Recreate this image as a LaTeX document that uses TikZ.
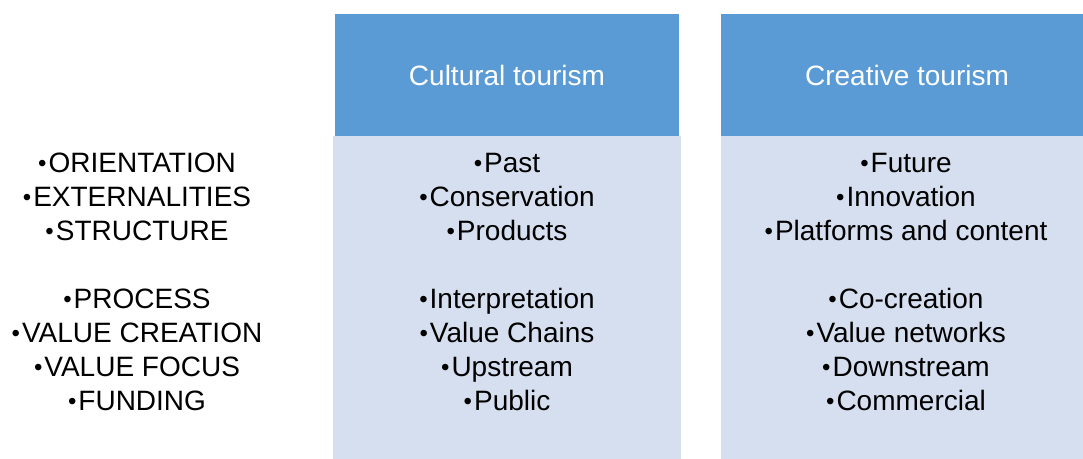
\documentclass[tikz,border=0pt]{standalone}
\usepackage{fontspec}
\setmainfont{Liberation Sans}
\definecolor{hdr}{HTML}{5B9BD5}
\definecolor{bdy}{HTML}{D5DFEF}
\newcommand{\blt}{{\fontsize{24bp}{34bp}\selectfont\raisebox{1bp}{•}}\kern2bp}
\begin{document}
\begin{tikzpicture}[x=1bp,y=-1bp,
  txt/.style={inner sep=0pt, anchor=base, font=\fontsize{28bp}{34bp}\selectfont},
  hdrtxt/.style={txt, text=white},
  panel/.style={inner sep=0pt, outer sep=0pt, anchor=north west}]
\useasboundingbox (0,0) rectangle (1083,459);
% column 1
\node[panel, fill=bdy, minimum width=348bp, minimum height=323bp] (b1) at (333,136) {};
\node[panel, fill=hdr, minimum width=344bp, minimum height=122bp] (h1) at (335,14) {};
% column 2
\node[panel, fill=bdy, minimum width=362bp, minimum height=323bp] (b2) at (721,136) {};
\node[panel, fill=hdr, minimum width=362bp, minimum height=122bp] (h2) at (721,14) {};
\node[hdrtxt] (t1) at (507,86) {Cultural tourism};
\node[hdrtxt] (t2) at (907,86) {Creative tourism};
% rows
\foreach \y/\a/\b/\c [count=\i] in {
  173/ORIENTATION/Past/Future,
  207/EXTERNALITIES/Conservation/Innovation,
  241/STRUCTURE/Products/Platforms and content,
  309/PROCESS/Interpretation/Co-creation,
  343/VALUE CREATION/Value Chains/Value networks,
  377/VALUE FOCUS/Upstream/Downstream,
  411/FUNDING/Public/Commercial} {
  \node[txt] (l\i) at (137,\y) {\blt\a};
  \node[txt] (c\i) at (507,\y) {\blt\b};
  \node[txt] (r\i) at (906,\y) {\blt\c};
}
\end{tikzpicture}
\end{document}
